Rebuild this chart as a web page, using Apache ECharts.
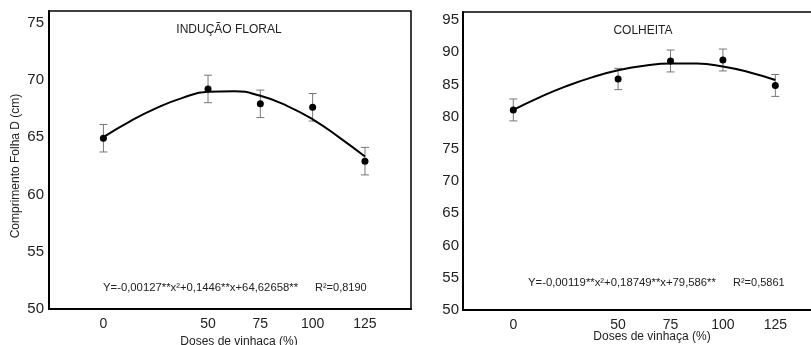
<!DOCTYPE html>
<html>
<head>
<meta charset="utf-8">
<script src="https://cdn.jsdelivr.net/npm/echarts@6/dist/echarts.min.js"></script>
<style>
html,body{margin:0;padding:0;background:#fff;}
#c{width:811px;height:345px;}
</style>
</head>
<body>
<div id="c"></div>
<script>
// ---- data ----
const doses = [0, 50, 75, 100, 125];
const xTickValues = [0, 50, 75, 100, 125];

const floralMeans = [64.9, 69.2, 67.9, 67.6, 62.9];
const floralErr = [1.2, 1.2, 1.2, 1.2, 1.2];
const floralCurveX = [0, 12.5, 25, 37.5, 50, 62.5, 75, 87.5, 100, 112.5, 125];
const floralCurveY = [65.0, 66.35, 67.5, 68.4, 68.95, 69.0, 68.6, 67.75, 66.55, 65.0, 63.3];

const colheitaMeans = [81.05, 85.85, 88.65, 88.8, 84.85];
const colheitaErr = [1.7, 1.65, 1.7, 1.7, 1.7];
const colheitaCurveX = [0, 12.5, 25, 37.5, 50, 62.5, 75, 87.5, 100, 112.5, 125];
const colheitaCurveY = [81.06, 83.0, 84.7, 86.1, 87.2, 87.9, 88.25, 88.25, 87.8, 86.9, 85.7];

const titles = ['INDUÇÃO FLORAL', 'COLHEITA'];
const equations = ['Y=-0,00127**x²+0,1446**x+64,62658**', 'Y=-0,00119**x²+0,18749**x+79,586**'];
const r2Texts = ['R²=0,8190', 'R²=0,5861'];
const xName = 'Doses de vinhaça (%)';
const yName = 'Comprimento Folha D (cm)';

// ---- chart ----
const FONT = '"Liberation Sans", Arial, sans-serif';
const chart = echarts.init(document.getElementById('c'));

function pairs(xs, ys) { return xs.map((x, i) => [x, ys[i]]); }

function errData(means, errs) {
  return doses.map((d, i) => [d, means[i] - errs[i], means[i] + errs[i]]);
}

function errRender(params, api) {
  const x = api.value(0);
  const lo = api.coord([x, api.value(1)]);
  const hi = api.coord([x, api.value(2)]);
  const w = 4;
  const style = { stroke: '#777', lineWidth: 1 };
  return {
    type: 'group',
    children: [
      { type: 'line', shape: { x1: lo[0], y1: lo[1], x2: hi[0], y2: hi[1] }, style },
      { type: 'line', shape: { x1: lo[0] - w, y1: lo[1], x2: lo[0] + w, y2: lo[1] }, style },
      { type: 'line', shape: { x1: hi[0] - w, y1: hi[1], x2: hi[0] + w, y2: hi[1] }, style }
    ]
  };
}

function yLabelFmt(v) { return (Math.abs(v % 5) < 1e-9) ? String(v) : ''; }

const common = {
  axisLine: { show: true, onZero: false, lineStyle: { color: '#000', width: 2 } },
  axisTick: { show: false },
  splitLine: { show: false }
};

const option = {
  animation: false,
  backgroundColor: '#fff',
  textStyle: { fontFamily: FONT },
  grid: [
    { left: 49, top: 11, right: 400, bottom: 36, outerBoundsMode: 'none', containLabel: false, show: true, borderColor: '#000', borderWidth: 1.5, backgroundColor: 'transparent' },
    { left: 463, top: 12, right: -14, bottom: 35, outerBoundsMode: 'none', containLabel: false, show: true, borderColor: '#000', borderWidth: 1.5, backgroundColor: 'transparent' }
  ],
  xAxis: [
    Object.assign({}, common, {
      type: 'value', gridIndex: 0, min: -26, max: 147,
      axisLabel: { customValues: xTickValues, fontSize: 14, color: '#222', margin: 8, fontFamily: FONT },
      name: xName, nameLocation: 'middle', nameGap: 27, nameMoveOverlap: false,
      nameTextStyle: { fontSize: 12, color: '#222', fontFamily: FONT, padding: [0, 0, 0, 18] }
    }),
    Object.assign({}, common, {
      type: 'value', gridIndex: 1, min: -24, max: 148.7,
      axisLabel: { customValues: xTickValues, fontSize: 14, color: '#222', margin: 8, fontFamily: FONT },
      name: xName, nameLocation: 'middle', nameGap: 21, nameMoveOverlap: false,
      nameTextStyle: { fontSize: 12, color: '#222', fontFamily: FONT, padding: [0, 0, 0, 16] }
    })
  ],
  yAxis: [
    Object.assign({}, common, {
      type: 'value', gridIndex: 0, min: 50, max: 76, interval: 5,
      axisLabel: { formatter: yLabelFmt, fontSize: 15, color: '#222', margin: 5, fontFamily: FONT }
    }),
    Object.assign({}, common, {
      type: 'value', gridIndex: 1, min: 50, max: 96.25, interval: 5,
      axisLabel: { formatter: yLabelFmt, fontSize: 15, color: '#222', margin: 4, fontFamily: FONT }
    })
  ],
  series: [
    { type: 'custom', xAxisIndex: 0, yAxisIndex: 0, renderItem: errRender, data: errData(floralMeans, floralErr), z: 2 },
    { type: 'line', xAxisIndex: 0, yAxisIndex: 0, data: pairs(floralCurveX, floralCurveY), smooth: true, showSymbol: false, symbol: 'none', lineStyle: { color: '#000', width: 2 }, z: 3 },
    { type: 'scatter', xAxisIndex: 0, yAxisIndex: 0, data: pairs(doses, floralMeans), symbolSize: 7, itemStyle: { color: '#000', opacity: 1 }, z: 4 },
    { type: 'custom', xAxisIndex: 1, yAxisIndex: 1, renderItem: errRender, data: errData(colheitaMeans, colheitaErr), z: 2 },
    { type: 'line', xAxisIndex: 1, yAxisIndex: 1, data: pairs(colheitaCurveX, colheitaCurveY), smooth: true, showSymbol: false, symbol: 'none', lineStyle: { color: '#000', width: 2 }, z: 3 },
    { type: 'scatter', xAxisIndex: 1, yAxisIndex: 1, data: pairs(doses, colheitaMeans), symbolSize: 7, itemStyle: { color: '#000', opacity: 1 }, z: 4 }
  ],
  graphic: [
    { type: 'text', x: 229, y: 30, style: { text: titles[0], font: '12px ' + FONT, fill: '#222', textAlign: 'center', textVerticalAlign: 'middle' } },
    { type: 'text', x: 643, y: 31, style: { text: titles[1], font: '12px ' + FONT, fill: '#222', textAlign: 'center', textVerticalAlign: 'middle' } },
    { type: 'text', x: 103, y: 288, style: { text: equations[0], font: '11.3px ' + FONT, fill: '#222', textAlign: 'left', textVerticalAlign: 'middle' } },
    { type: 'text', x: 315, y: 288, style: { text: r2Texts[0], font: '11px ' + FONT, fill: '#222', textAlign: 'left', textVerticalAlign: 'middle' } },
    { type: 'text', x: 528, y: 283, style: { text: equations[1], font: '11.3px ' + FONT, fill: '#222', textAlign: 'left', textVerticalAlign: 'middle' } },
    { type: 'text', x: 733, y: 283, style: { text: r2Texts[1], font: '11px ' + FONT, fill: '#222', textAlign: 'left', textVerticalAlign: 'middle' } },
    { type: 'text', x: 16, y: 166, rotation: Math.PI / 2, style: { text: yName, font: '12px ' + FONT, fill: '#222', textAlign: 'center', textVerticalAlign: 'middle' } }
  ]
};
chart.setOption(option);
</script>
</body>
</html>
